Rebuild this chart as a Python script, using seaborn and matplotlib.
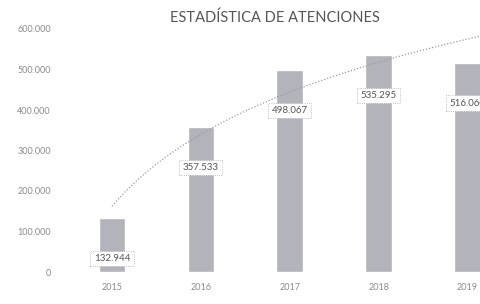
import numpy as np
import pandas as pd
import matplotlib
matplotlib.use("Agg")
import matplotlib.pyplot as plt
import seaborn as sns

years = ["2015", "2016", "2017", "2018", "2019"]
values = [132944, 357533, 498067, 535295, 516060]
value_labels = ["132.944", "357.533", "498.067", "535.295", "516.060"]
yticks = [0, 100000, 200000, 300000, 400000, 500000, 600000]
ytick_labels = ["0", "100.000", "200.000", "300.000", "400.000", "500.000", "600.000"]
title = "ESTADÍSTICA DE ATENCIONES"

sns.set_theme(style="white")
plt.rcParams["font.family"] = ["Lato", "DejaVu Sans"]

fig = plt.figure(figsize=(4.81, 3.04), dpi=100)
ax = fig.add_axes([67.5 / 481, 1 - 272 / 304, (512 - 67.5) / 481, (272 - 29) / 304])

df = pd.DataFrame({"year": years, "value": values})
sns.barplot(data=df, x="year", y="value", color="#b3b3bb", width=0.30,
            saturation=1, ax=ax, zorder=2)

# logarithmic trendline from data
idx = np.arange(1, len(values) + 1)
b, a = np.polyfit(np.log(idx), values, 1)
xs = np.linspace(1.0, 5.6, 200)
ax.plot(xs - 1, a + b * np.log(xs), linestyle=(0, (1, 1.5)), color="#9a9a9a",
        linewidth=0.9, zorder=3)

for i, (v, lab) in enumerate(zip(values, value_labels)):
    ax.annotate(lab, xy=(i, v), xytext=(0, -29), textcoords="offset points",
                ha="center", va="center", fontsize=7, color="#555555",
                bbox=dict(boxstyle="square,pad=0.35", fc="white", ec="#aaaaaa",
                          lw=0.6, ls=":"), zorder=4)

ax.set_ylim(0, 600000)
ax.set_xlim(-0.5, 4.5)
ax.set_yticks(yticks)
ax.set_yticklabels(ytick_labels)
ax.tick_params(axis="both", length=0, labelsize=6.5, labelcolor="#8a8a8a")
ax.tick_params(axis="y", pad=12)
ax.tick_params(axis="x", pad=8)
ax.set_xlabel("")
ax.set_ylabel("")
for s in ax.spines.values():
    s.set_visible(False)

fig.text(275 / 481, 1 - 18 / 304, title, ha="center", va="center",
         fontsize=10.5, color="#555555")

fig.savefig("out.png", dpi=100)
